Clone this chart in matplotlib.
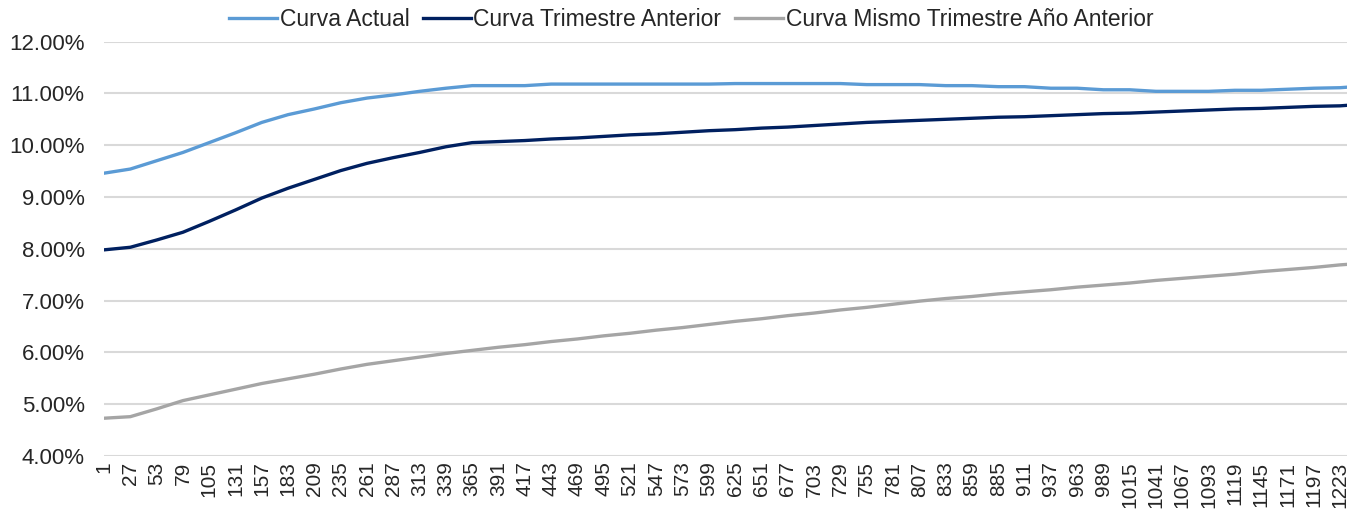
import matplotlib.pyplot as plt
from matplotlib.ticker import PercentFormatter

# days to maturity (tick every 26 days, last point at 1230)
days = [1, 27, 53, 79, 105, 131, 157, 183, 209, 235, 261, 287, 313, 339, 365,
        391, 417, 443, 469, 495, 521, 547, 573, 599, 625, 651, 677, 703, 729,
        755, 781, 807, 833, 859, 885, 911, 937, 963, 989, 1015, 1041, 1067,
        1093, 1119, 1145, 1171, 1197, 1223, 1230]

curva_actual = [9.46, 9.54, 9.70, 9.86, 10.05, 10.24, 10.44, 10.59, 10.70, 10.82,
                10.91, 10.97, 11.04, 11.10, 11.15, 11.15, 11.15, 11.18, 11.18, 11.18,
                11.18, 11.18, 11.18, 11.18, 11.19, 11.19, 11.19, 11.19, 11.19, 11.17,
                11.17, 11.17, 11.15, 11.15, 11.13, 11.13, 11.10, 11.10, 11.07, 11.07,
                11.04, 11.04, 11.04, 11.06, 11.06, 11.08, 11.10, 11.11, 11.12]

curva_trim_anterior = [7.98, 8.03, 8.17, 8.32, 8.53, 8.75, 8.98, 9.17, 9.34, 9.51,
                       9.65, 9.76, 9.86, 9.97, 10.05, 10.07, 10.09, 10.12, 10.14, 10.17,
                       10.20, 10.22, 10.25, 10.28, 10.30, 10.33, 10.35, 10.38, 10.41, 10.44,
                       10.46, 10.48, 10.50, 10.52, 10.54, 10.55, 10.57, 10.59, 10.61, 10.62,
                       10.64, 10.66, 10.68, 10.70, 10.71, 10.73, 10.75, 10.76, 10.77]

curva_anio_anterior = [4.73, 4.76, 4.91, 5.07, 5.18, 5.29, 5.40, 5.49, 5.58, 5.68,
                       5.77, 5.84, 5.91, 5.98, 6.04, 6.10, 6.15, 6.21, 6.26, 6.32,
                       6.37, 6.43, 6.48, 6.54, 6.60, 6.65, 6.71, 6.76, 6.82, 6.87,
                       6.93, 6.99, 7.04, 7.08, 7.13, 7.17, 7.21, 7.26, 7.30, 7.34,
                       7.39, 7.43, 7.47, 7.51, 7.56, 7.60, 7.64, 7.69, 7.70]

labels = ['Curva Actual', 'Curva Trimestre Anterior', 'Curva Mismo Trimestre Año Anterior']
colors = ['#5B9BD5', '#002060', '#A5A5A5']
yticks = [4, 5, 6, 7, 8, 9, 10, 11, 12]

plt.rcParams['font.family'] = ['Liberation Sans', 'DejaVu Sans']

fig = plt.figure(figsize=(13.58, 5.20), dpi=100)
ax = fig.add_axes([0.0766, 0.123, 0.9154, 0.797])

for series, lab, col in zip([curva_actual, curva_trim_anterior, curva_anio_anterior], labels, colors):
    ax.plot(days, series, color=col, linewidth=2.4, label=lab, solid_joinstyle='round')

ax.set_xlim(days[0], days[-1])
ax.set_ylim(4, 12)
ax.set_yticks(yticks)
ax.yaxis.set_major_formatter(PercentFormatter(decimals=2))
ax.set_xticks(days[:-1])
ax.set_xticklabels([str(d) for d in days[:-1]], rotation=90)
ax.tick_params(axis='y', labelsize=16, length=0, pad=14, colors='#262626')
ax.tick_params(axis='x', labelsize=15, length=0, pad=4, colors='#262626')

ax.grid(axis='y', color='#D9D9D9', linewidth=1.5)
ax.set_axisbelow(True)
for s in ax.spines.values():
    s.set_visible(False)

fig.legend(loc='upper center', bbox_to_anchor=(0.509, 1.025), ncol=3, frameon=False,
           fontsize=16.5, handlelength=2.1, handletextpad=0.1, columnspacing=0.6,
           labelcolor='#262626')

fig.savefig('out.png', dpi=100)
